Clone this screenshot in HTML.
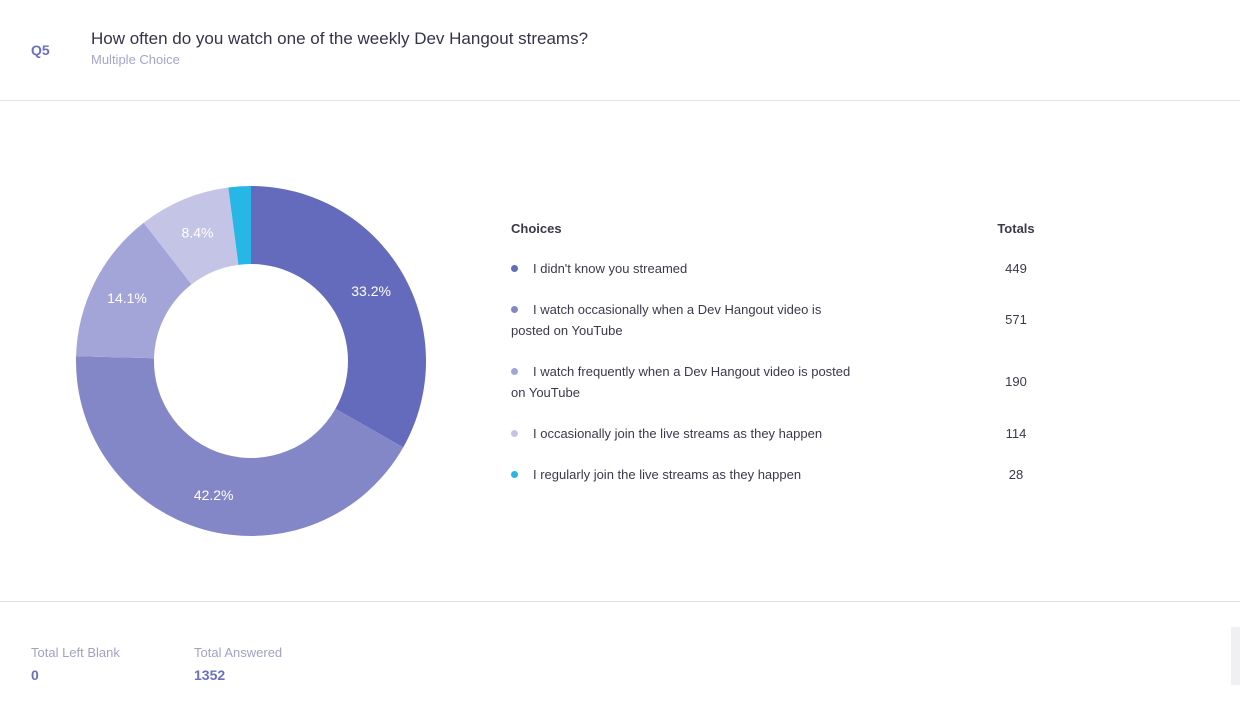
<!DOCTYPE html>
<html><head><meta charset="utf-8"><style>
body{margin:0;width:1240px;height:727px;background:#fff;font-family:"Liberation Sans",sans-serif;position:relative;overflow:hidden;color:#3a3a4a}
.abs{position:absolute}
.q{left:31px;top:42px;font-size:14px;color:#6b6fc0;font-weight:bold}
.title{left:91px;top:29px;font-size:17px;color:#33334a}
.sub{left:91px;top:52px;font-size:13px;color:#a3a6cc}
.hr{left:0;width:1240px;height:1px;background:#e2e2e6}
.lg{font-size:13px;color:#3a3a4a;line-height:21px}
.dot{display:inline-block;width:7px;height:7px;border-radius:50%;margin-right:15px;vertical-align:1px}
.tot{font-size:13px;width:60px;text-align:center;left:986px}
.fl{font-size:13px;color:#a0a3c4}
.fv{font-size:14px;font-weight:bold;color:#6b6fc0}
</style></head><body>
<div class="abs q">Q5</div>
<div class="abs title">How often do you watch one of the weekly Dev Hangout streams?</div>
<div class="abs sub">Multiple Choice</div>
<div class="abs hr" style="top:100px"></div>
<svg class="abs" style="left:0;top:0" width="500" height="600" id="chart"></svg>
<div class="abs lg" style="left:511px;top:218px;font-weight:bold">Choices</div>
<div class="abs lg tot" style="top:218px;font-weight:bold">Totals</div>
<div id="legend"></div>
<div class="abs hr" style="top:601px"></div>
<div class="abs fl" style="left:31px;top:645px">Total Left Blank</div>
<div class="abs fv" style="left:31px;top:667px">0</div>
<div class="abs fl" style="left:194px;top:645px">Total Answered</div>
<div class="abs fv" style="left:194px;top:667px">1352</div>
<div class="abs" style="left:1231px;top:627px;width:9px;height:58px;background:#f0f0f2"></div>
<script>
const labels=["I didn't know you streamed","I watch occasionally when a Dev Hangout video is posted on YouTube","I watch frequently when a Dev Hangout video is posted on YouTube","I occasionally join the live streams as they happen","I regularly join the live streams as they happen"];
const values=[449,571,190,114,28];
const colors=["#646bbd","#8387c8","#a3a5d8","#c4c5e6","#27b7e6"];
const rowTops=[258,299,361,423,464];
const rowTwoLine=[false,true,true,false,false];
const svg=document.getElementById('chart');
const NS="http://www.w3.org/2000/svg";
const cx=251,cy=361,R=175,r=97,LR=139;
const total=values.reduce((a,b)=>a+b,0);
let acc=0;
function pt(rad,f){const a=f*2*Math.PI;return [cx+rad*Math.sin(a),cy-rad*Math.cos(a)];}
values.forEach((v,i)=>{
  const f0=acc/total,f1=(acc+v)/total;acc+=v;
  const large=(f1-f0)>0.5?1:0;
  const [x0,y0]=pt(R,f0),[x1,y1]=pt(R,f1),[x2,y2]=pt(r,f1),[x3,y3]=pt(r,f0);
  const p=document.createElementNS(NS,'path');
  p.setAttribute('d',`M${x0},${y0}A${R},${R} 0 ${large} 1 ${x1},${y1}L${x2},${y2}A${r},${r} 0 ${large} 0 ${x3},${y3}Z`);
  p.setAttribute('fill',colors[i]);
  
  
  svg.appendChild(p);
  const pct=v/total*100;
  if(pct>5){
    const [lx,ly]=pt(LR,(f0+f1)/2);
    const t=document.createElementNS(NS,'text');
    t.setAttribute('x',lx);t.setAttribute('y',ly+5);
    t.setAttribute('text-anchor','middle');t.setAttribute('fill','#fff');
    t.setAttribute('font-size','14');t.setAttribute('font-family','Liberation Sans, sans-serif');
    t.textContent=pct.toFixed(1)+'%';
    
    
    svg.appendChild(t);
  }
});
const lg=document.getElementById('legend');
labels.forEach((l,i)=>{
  const d=document.createElement('div');
  d.className='abs lg';d.style.left='511px';d.style.top=rowTops[i]+'px';d.style.width='340px';
  d.innerHTML='<span class="dot" style="background:'+colors[i]+'"></span>'+l;
  
  
  lg.appendChild(d);
  const t=document.createElement('div');
  t.className='abs lg tot';t.style.top=(rowTops[i]+(rowTwoLine[i]?10:0))+'px';
  t.textContent=values[i];
  
  
  lg.appendChild(t);
});
</script>
</body></html>
